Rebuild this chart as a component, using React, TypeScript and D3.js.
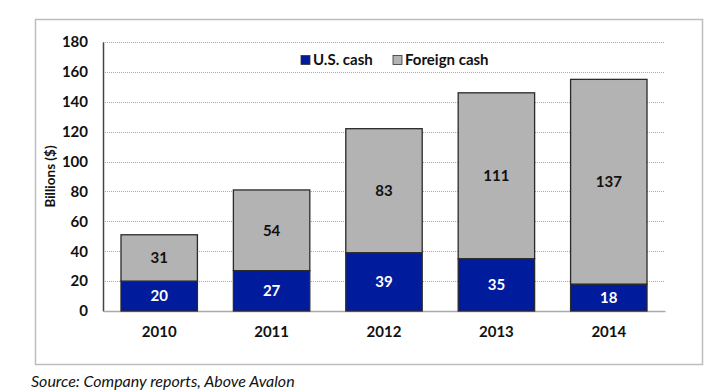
import React, { useEffect, useRef } from 'react';
import * as d3 from 'd3';

const years = ['2010', '2011', '2012', '2013', '2014'];
const usCash = [20, 27, 39, 35, 18];
const foreignCash = [31, 54, 83, 111, 137];
const yTicks = [0, 20, 40, 60, 80, 100, 120, 140, 160, 180];

const BLUE = '#001b9b';
const GREY = '#b3b3b3';
const FONT = 'Lato, "Open Sans", sans-serif';

const App: React.FC = () => {
  const svgRef = useRef<SVGSVGElement>(null);

  useEffect(() => {
    if (!svgRef.current) return;
    const svg = d3.select(svgRef.current);
    svg.selectAll('*').remove();

    const left = 103, right = 665, top = 42, bottom = 311;

    const x = d3.scaleBand<string>().domain(years).range([left, right]).paddingInner(0.32).paddingOuter(0.16);
    const y = d3.scaleLinear().domain([0, 180]).range([bottom, top]);

    // Rahmen
    svg.append('rect')
      .attr('x', 35.5).attr('y', 19.5).attr('width', 667).attr('height', 345)
      .attr('fill', '#fff').attr('stroke', '#bdbdbd').attr('stroke-width', 1.5);

    // Gitterlinien
    svg.append('g').selectAll('line')
      .data(yTicks.filter(t => t > 0))
      .join('line')
      .attr('x1', left).attr('x2', right)
      .attr('y1', d => Math.round(y(d)) + 0.5).attr('y2', d => Math.round(y(d)) + 0.5)
      .attr('stroke', '#a8a8a8').attr('stroke-width', 1).attr('stroke-dasharray', '1,1');

    // Y-Achse
    const yAxis = d3.axisLeft(y).tickValues(yTicks).tickSize(0).tickPadding(15);
    const ya = svg.append('g').attr('transform', `translate(${left},0)`).call(yAxis);
    ya.select('.domain').attr('stroke', '#444').attr('stroke-width', 1.5);
    ya.selectAll('text')
      .attr('font-family', FONT).attr('font-weight', 'bold').attr('font-size', 15).attr('fill', '#111');

    // X-Achse
    const xAxis = d3.axisBottom(x).tickSize(0).tickPadding(15);
    const xa = svg.append('g').attr('transform', `translate(0,${bottom})`).call(xAxis);
    xa.select('.domain').attr('stroke', '#aaaaaa').attr('stroke-width', 1.5);
    xa.selectAll('text')
      .attr('font-family', FONT).attr('font-weight', 'bold').attr('font-size', 15).attr('fill', '#111');

    const stackData = years.map((yr, i) => ({ year: yr, us: usCash[i], foreign: foreignCash[i] }));
    const series = d3.stack<{ year: string; us: number; foreign: number }>().keys(['us', 'foreign'])(stackData);
    const colors = [BLUE, GREY];
    const textColors = ['#fff', '#111'];

    series.forEach((s, si) => {
      const g = svg.append('g');
      g.selectAll('rect')
        .data(s)
        .join('rect')
        .attr('x', d => x(d.data.year)!)
        .attr('width', x.bandwidth())
        .attr('y', d => y(d[1]))
        .attr('height', d => y(d[0]) - y(d[1]))
        .attr('fill', colors[si])
        .attr('stroke', '#2a2a2a')
        .attr('stroke-width', 1.3);
      g.selectAll('text')
        .data(s)
        .join('text')
        .attr('x', d => x(d.data.year)! + x.bandwidth() / 2)
        .attr('y', d => y((d[0] + d[1]) / 2))
        .attr('dy', '0.36em')
        .attr('text-anchor', 'middle')
        .attr('font-family', FONT).attr('font-weight', 'bold').attr('font-size', 15)
        .attr('fill', textColors[si])
        .text(d => String(d[1] - d[0]));
    });

    // Legende
    const legend = [
      { label: 'U.S. cash', color: BLUE, x: 301 },
      { label: 'Foreign cash', color: GREY, x: 393 },
    ];
    const lg = svg.append('g');
    legend.forEach(l => {
      lg.append('rect').attr('x', l.x).attr('y', 55.5).attr('width', 9).attr('height', 9)
        .attr('fill', l.color).attr('stroke', '#333').attr('stroke-width', 0.8);
      lg.append('text').attr('x', l.x + 12).attr('y', 60).attr('dy', '0.36em')
        .attr('font-family', FONT).attr('font-weight', 'bold').attr('font-size', 15).attr('fill', '#111')
        .text(l.label);
    });

    // Achsentitel
    svg.append('text')
      .attr('transform', `translate(50,${(top + bottom) / 2}) rotate(-90)`)
      .attr('text-anchor', 'middle')
      .attr('dy', '0.36em')
      .attr('font-family', FONT).attr('font-weight', 'bold').attr('font-size', 13.5).attr('fill', '#111')
      .text('Billions ($)');

    // Quelle
    svg.append('text')
      .attr('x', 31).attr('y', 387)
      .attr('font-family', FONT).attr('font-style', 'italic').attr('font-size', 16).attr('fill', '#111')
      .text('Source: Company reports, Above Avalon');
  }, []);

  return (
    <div style={{ position: 'absolute', left: 0, top: 0 }}>
      <svg ref={svgRef} width={728} height={392} style={{ display: 'block' }} />
    </div>
  );
};

export default App;
